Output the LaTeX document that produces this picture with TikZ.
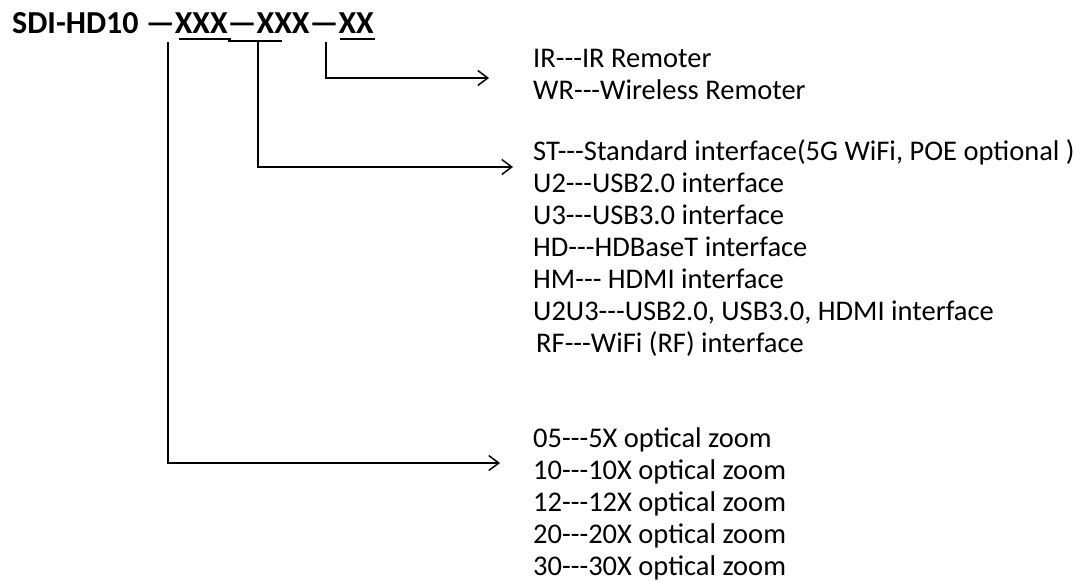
\documentclass[tikz,border=0pt]{standalone}
\usepackage{fontspec}
\setmainfont{Carlito}[Ligatures=TeXOff]
\usetikzlibrary{arrows.meta}
\begin{document}
\begin{tikzpicture}[x=1pt, y=-1pt,
  wire/.style={line width=1.5pt},
  pointer/.style={wire, -{Straight Barb[length=10pt, width=15pt]}},
  entry/.style={anchor=base west, inner sep=0pt, font=\fontsize{28.5}{32}\selectfont},
  code/.style={anchor=base west, inner sep=0pt, font=\fontsize{32}{38}\selectfont\bfseries}]
\useasboundingbox (0,0) rectangle (1075,581);
\node[code] (model) at (12,33) {SDI-HD10 —XXX—XXX—XX};
\draw[wire] (179,39) -- (231,39);
\draw[wire] (228,41) -- (282,41);
\draw[wire] (340,39) -- (375,39);
\coordinate (zoomtop) at (168,42);
\coordinate (zoomtip) at (500,463);
\coordinate (porttop) at (258,41);
\coordinate (porttip) at (513,167);
\coordinate (remtop) at (326,42);
\coordinate (remtip) at (489,78);
\draw[pointer] (remtop) |- (remtip);
\draw[pointer] (porttop) |- (porttip);
\draw[pointer] (zoomtop) |- (zoomtip);
\node[entry] (ir) at (533,67) {IR---IR Remoter};
\node[entry] (wr) at (533,99) {WR---Wireless Remoter};
\node[entry] (st) at (533,160) {ST---Standard interface(5G WiFi, POE optional )};
\node[entry] (u2) at (533,192) {U2---USB2.0 interface};
\node[entry] (u3) at (533,224) {U3---USB3.0 interface};
\node[entry] (hd) at (533,256) {HD---HDBaseT interface};
\node[entry] (hm) at (533,288) {HM--- HDMI interface};
\node[entry] (uu) at (533,320) {U2U3---USB2.0, USB3.0, HDMI interface};
\node[entry] (rf) at (536,352) {RF---WiFi (RF) interface};
\node[entry] (z05) at (533,447) {05---5X optical zoom};
\node[entry] (z10) at (533,479) {10---10X optical zoom};
\node[entry] (z12) at (533,511) {12---12X optical zoom};
\node[entry] (z20) at (533,543) {20---20X optical zoom};
\node[entry] (z30) at (533,575) {30---30X optical zoom};
\end{tikzpicture}
\end{document}
